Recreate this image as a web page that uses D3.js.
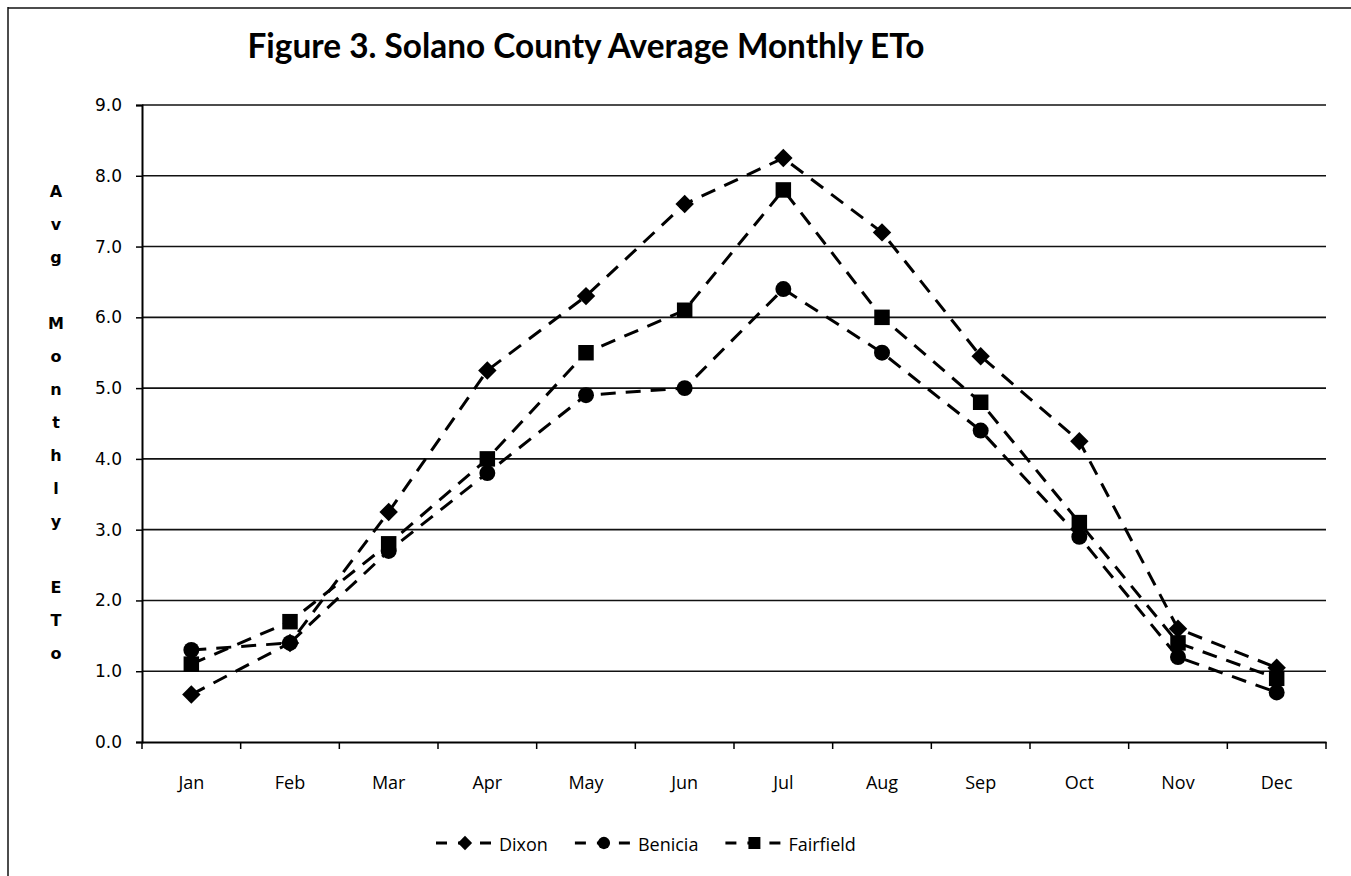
<!DOCTYPE html>
<html>
<head>
<meta charset="utf-8">
<script src="https://cdn.jsdelivr.net/npm/d3@7"></script>
<style>
  html, body { margin: 0; padding: 0; background: #fff; }
  svg { display: block; }
</style>
</head>
<body>
<svg id="chart" width="1351" height="876"></svg>
<script>
// ---- data ----
const months = ["Jan","Feb","Mar","Apr","May","Jun","Jul","Aug","Sep","Oct","Nov","Dec"];
const dixon     = [0.67, 1.40, 3.25, 5.25, 6.30, 7.60, 8.25, 7.20, 5.45, 4.25, 1.60, 1.05];
const benicia   = [1.30, 1.40, 2.70, 3.80, 4.90, 5.00, 6.40, 5.50, 4.40, 2.90, 1.20, 0.70];
const fairfield = [1.10, 1.70, 2.80, 4.00, 5.50, 6.10, 7.80, 6.00, 4.80, 3.10, 1.40, 0.90];
const seriesNames = ["Dixon", "Benicia", "Fairfield"];
const seriesShapes = ["diamond", "circle", "square"];
const yTicks = [0, 1, 2, 3, 4, 5, 6, 7, 8, 9];
const titleText = "Figure 3. Solano County Average Monthly ETo";
const yAxisLetters = ["A","v","g","","M","o","n","t","h","l","y","","E","T","o"];

const series = [dixon, benicia, fairfield].map((vals, i) => ({
  name: seriesNames[i], shape: seriesShapes[i], values: vals
}));

// ---- layout ----
const svg = d3.select("#chart");
const plotL = 142, plotR = 1326, plotT = 105, plotB = 742;

const x = d3.scaleBand().domain(months).range([plotL, plotR]);
const y = d3.scaleLinear().domain([0, 9]).range([plotB, plotT]);

// outer frame (left + top edges visible)
svg.append("line").attr("x1", 8).attr("x2", 8).attr("y1", 7).attr("y2", 876)
  .attr("stroke", "#111").attr("stroke-width", 1.5);
svg.append("line").attr("x1", 8).attr("x2", 1351).attr("y1", 8).attr("y2", 8)
  .attr("stroke", "#111").attr("stroke-width", 1.5);

// title
svg.append("text")
  .attr("x", 586).attr("y", 58)
  .attr("text-anchor", "middle")
  .attr("font-family", "Lato, 'Open Sans', sans-serif")
  .attr("font-weight", "bold")
  .attr("font-size", 34)
  .attr("textLength", 677)
  .attr("lengthAdjust", "spacingAndGlyphs")
  .attr("fill", "#000")
  .text(titleText);

// gridlines
svg.append("g")
  .selectAll("line")
  .data(yTicks.filter(d => d > 0))
  .join("line")
  .attr("x1", plotL).attr("x2", plotR)
  .attr("y1", d => y(d)).attr("y2", d => y(d))
  .attr("stroke", "#111").attr("stroke-width", 1.6);

// y axis
const yAxis = d3.axisLeft(y).tickValues(yTicks).tickFormat(d3.format(".1f")).tickSize(6).tickPadding(14);
const gy = svg.append("g").attr("transform", `translate(${plotL},0)`).call(yAxis);
gy.select(".domain").attr("stroke", "#000").attr("stroke-width", 2);
gy.selectAll(".tick line").attr("stroke", "#000").attr("stroke-width", 1.5);
gy.selectAll(".tick text")
  .attr("font-family", "'DejaVu Sans', Verdana, sans-serif")
  .attr("font-size", 17).attr("fill", "#000");

// x axis
const xAxis = d3.axisBottom(x).tickSize(0).tickPadding(34);
const gx = svg.append("g").attr("transform", `translate(0,${plotB})`).call(xAxis);
gx.select(".domain").attr("stroke", "#000").attr("stroke-width", 2);
gx.selectAll(".tick text")
  .attr("font-family", "'Open Sans', sans-serif")
  .attr("font-size", 18).attr("fill", "#000");
// category boundary ticks
const boundaries = months.map(m => x(m)).concat([plotR]);
svg.append("g").selectAll("line").data(boundaries).join("line")
  .attr("x1", d => d).attr("x2", d => d)
  .attr("y1", plotB).attr("y2", plotB + 7)
  .attr("stroke", "#000").attr("stroke-width", 1.5);

// y axis title (stacked letters)
const yt = svg.append("text")
  .attr("font-family", "'DejaVu Sans', Verdana, sans-serif")
  .attr("font-weight", "bold")
  .attr("font-size", 16)
  .attr("text-anchor", "middle")
  .attr("fill", "#000");
yAxisLetters.forEach((ch, i) => {
  yt.append("tspan").attr("x", 56).attr("y", 197 + i * 33).text(ch || "\u00A0");
});

// symbols: diamond is a square rotated by 45 degrees
function symbolPath(shape, scale) {
  if (shape === "diamond") return d3.symbol().type(d3.symbolSquare).size(170 * scale)();
  if (shape === "circle") return d3.symbol().type(d3.symbolCircle).size(200 * scale)();
  return d3.symbol().type(d3.symbolSquare).size(240 * scale)();
}
const rot = shape => shape === "diamond" ? " rotate(45)" : "";

const cx = m => x(m) + x.bandwidth() / 2;
const line = d3.line().x((d, i) => cx(months[i])).y(d => y(d));

const gs = svg.append("g").selectAll("g").data(series).join("g");
gs.append("path")
  .attr("d", d => line(d.values))
  .attr("fill", "none")
  .attr("stroke", "#000")
  .attr("stroke-width", 3)
  .attr("stroke-dasharray", "15,10");
gs.each(function(s) {
  d3.select(this).selectAll("path.pt").data(s.values).join("path")
    .attr("class", "pt")
    .attr("transform", (d, i) => `translate(${cx(months[i])},${y(d)})${rot(s.shape)}`)
    .attr("d", symbolPath(s.shape, 1))
    .attr("fill", "#000");
});

// legend
const legend = svg.append("g");
let lx = 436;
const ly = 843;
series.forEach(s => {
  const g = legend.append("g");
  g.append("line").attr("x1", lx).attr("x2", lx + 56).attr("y1", ly).attr("y2", ly)
    .attr("stroke", "#000").attr("stroke-width", 3).attr("stroke-dasharray", "11,11");
  g.append("path").attr("transform", `translate(${lx + 29},${ly})${rot(s.shape)}`)
    .attr("d", symbolPath(s.shape, 0.6)).attr("fill", "#000");
  const t = g.append("text").attr("x", lx + 63).attr("y", ly + 8)
    .attr("font-family", "'Open Sans', sans-serif").attr("font-size", 18)
    .attr("fill", "#000").text(s.name);
  lx = lx + 63 + t.node().getComputedTextLength() + 27;
});
</script>
</body>
</html>
